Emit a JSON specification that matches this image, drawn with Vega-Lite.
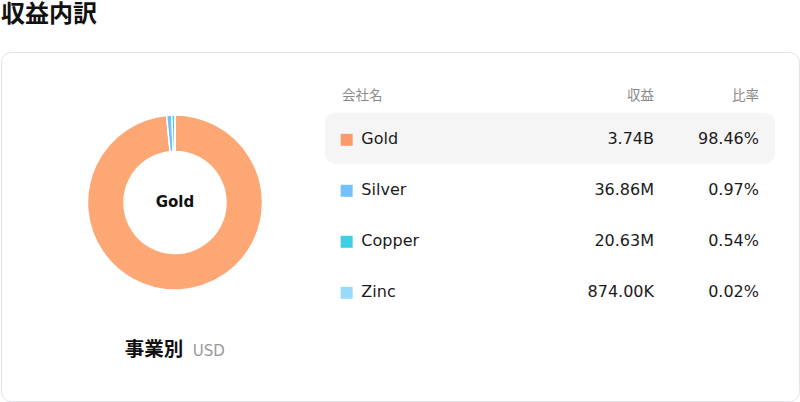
{
  "$schema": "https://vega.github.io/schema/vega-lite/v6.json",
  "description": "Revenue breakdown by business: donut plus table",
  "width": 800,
  "height": 402,
  "autosize": {"type": "fit", "contains": "padding"},
  "padding": {"left": 1, "right": 1, "top": 3, "bottom": 1},
  "title": {
    "text": "収益内訳",
    "anchor": "start",
    "frame": "group",
    "fontSize": 24,
    "fontWeight": "bold",
    "color": "#111111",
    "offset": 25
  },
  "datasets": {
    "revenue": [
      {"company": "Gold", "revenue": 3740000000, "revenueText": "3.74B", "share": 0.9846},
      {"company": "Silver", "revenue": 36860000, "revenueText": "36.86M", "share": 0.0097},
      {"company": "Copper", "revenue": 20630000, "revenueText": "20.63M", "share": 0.0054},
      {"company": "Zinc", "revenue": 874000, "revenueText": "874.00K", "share": 0.0002}
    ]
  },
  "data": {"name": "revenue"},
  "layer": [
    {
      "layer": [
        {
          "mark": {"type": "arc", "innerRadius": 51, "outerRadius": 87.5, "stroke": "#ffffff", "strokeWidth": 1.5},
          "encoding": {
            "x": {"datum": "chart", "type": "nominal", "scale": {"type": "point", "domain": ["chart", "name", "revenue", "ratio"], "range": [174, 758], "padding": 0}},
            "y": {"datum": "chart", "type": "nominal", "scale": {"type": "point", "domain": ["chart", "caption"], "range": [150.5, 303.5], "padding": 0}},
            "theta": {"field": "revenue", "type": "quantitative", "stack": true},
            "order": {"field": "revenue", "sort": "descending"},
            "color": {
              "field": "company",
              "type": "nominal",
              "scale": {"domain": ["Gold", "Silver", "Copper", "Zinc"], "range": ["#fda874", "#74c0fc", "#3dcfe4", "#99d9f9"]},
              "legend": null
            }
          }
        },
        {
          "transform": [{"filter": "datum.company === 'Gold'"}],
          "mark": {"type": "text", "fontSize": 15, "fontWeight": "bold", "color": "#111111", "baseline": "middle", "dy": -1},
          "encoding": {
            "x": {"datum": "chart", "type": "nominal"},
            "y": {"datum": "chart", "type": "nominal"},
            "text": {"field": "company", "type": "nominal"}
          }
        },
        {
          "data": {"values": [{}]},
          "mark": {"type": "text", "fontSize": 19.5, "fontWeight": "bold", "color": "#111111", "align": "right", "baseline": "alphabetic", "dx": 8.3},
          "encoding": {
            "x": {"datum": "chart", "type": "nominal"},
            "y": {"datum": "caption", "type": "nominal"},
            "text": {"value": "事業別"}
          }
        },
        {
          "data": {"values": [{}]},
          "mark": {"type": "text", "fontSize": 15, "color": "#999999", "align": "left", "baseline": "alphabetic", "dx": 17.7},
          "encoding": {
            "x": {"datum": "chart", "type": "nominal"},
            "y": {"datum": "caption", "type": "nominal"},
            "text": {"value": "USD"}
          }
        }
      ]
    },
    {
      "layer": [
        {
          "transform": [{"filter": "datum.company === 'Gold'"}],
          "mark": {"type": "rect", "fill": "#f5f5f5", "cornerRadius": 10, "xOffset": -44.7, "x2Offset": 16},
          "encoding": {
            "x": {"datum": "name", "type": "nominal", "scale": {"type": "point", "domain": ["chart", "name", "revenue", "ratio"], "range": [174, 758], "padding": 0}},
            "x2": {"datum": "ratio"},
            "y": {"field": "company", "type": "nominal", "scale": {"type": "band", "domain": ["header", "Gold", "Silver", "Copper", "Zinc"], "range": [9.8, 264.8], "paddingInner": 0, "paddingOuter": 0}}
          }
        },
        {
          "mark": {"type": "square", "size": 144, "opacity": 1, "filled": true, "xOffset": -23, "yOffset": 1.5},
          "encoding": {
            "x": {"datum": "name", "type": "nominal"},
            "y": {"field": "company", "type": "nominal"},
            "color": {
              "field": "company",
              "type": "nominal",
              "scale": {"domain": ["Gold", "Silver", "Copper", "Zinc"], "range": ["#fc9a6a", "#74c0fc", "#3dcfe4", "#99d9f9"]},
              "legend": null
            }
          }
        },
        {
          "mark": {"type": "text", "align": "left", "baseline": "middle", "dx": -8.3, "dy": 1, "fontSize": 16, "color": "#1b1b1b"},
          "encoding": {
            "x": {"datum": "name", "type": "nominal"},
            "y": {"field": "company", "type": "nominal"},
            "text": {"field": "company", "type": "nominal"}
          }
        },
        {
          "mark": {"type": "text", "align": "right", "baseline": "middle", "dx": 89.7, "dy": 1, "fontSize": 16, "color": "#1b1b1b"},
          "encoding": {
            "x": {"datum": "revenue", "type": "nominal"},
            "y": {"field": "company", "type": "nominal"},
            "text": {"field": "revenueText", "type": "nominal"}
          }
        },
        {
          "mark": {"type": "text", "align": "right", "baseline": "middle", "dy": 1, "fontSize": 16, "color": "#1b1b1b"},
          "encoding": {
            "x": {"datum": "ratio", "type": "nominal"},
            "y": {"field": "company", "type": "nominal"},
            "text": {"field": "share", "type": "quantitative", "format": ".2%"}
          }
        },
        {
          "data": {"values": [{}]},
          "mark": {"type": "text", "align": "left", "baseline": "middle", "dx": -27.7, "dy": 8.5, "fontSize": 13.5, "color": "#8a8a8a"},
          "encoding": {
            "x": {"datum": "name", "type": "nominal"},
            "y": {"datum": "header", "type": "nominal"},
            "text": {"value": "会社名"}
          }
        },
        {
          "data": {"values": [{}]},
          "mark": {"type": "text", "align": "right", "baseline": "middle", "dx": 89.7, "dy": 8.5, "fontSize": 13.5, "color": "#8a8a8a"},
          "encoding": {
            "x": {"datum": "revenue", "type": "nominal"},
            "y": {"datum": "header", "type": "nominal"},
            "text": {"value": "収益"}
          }
        },
        {
          "data": {"values": [{}]},
          "mark": {"type": "text", "align": "right", "baseline": "middle", "dy": 8.5, "fontSize": 13.5, "color": "#8a8a8a"},
          "encoding": {
            "x": {"datum": "ratio", "type": "nominal"},
            "y": {"datum": "header", "type": "nominal"},
            "text": {"value": "比率"}
          }
        }
      ]
    }
  ],
  "resolve": {"scale": {"y": "independent", "color": "independent"}},
  "config": {
    "font": "DejaVu Sans, Noto Sans CJK JP",
    "view": {"stroke": "#e3e1ea", "strokeWidth": 1, "cornerRadius": 10},
    "axis": {"disable": true}
  }
}
